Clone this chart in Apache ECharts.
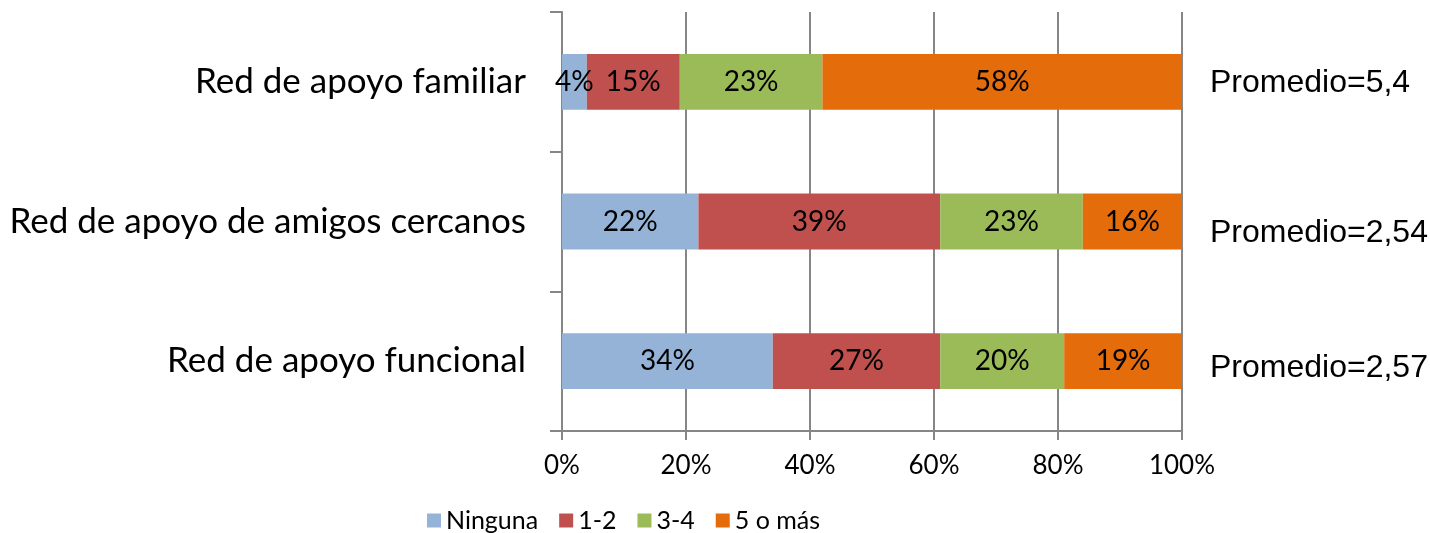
<!DOCTYPE html>
<html><head><meta charset="utf-8">
<script src="https://cdn.jsdelivr.net/npm/echarts@6/dist/echarts.min.js"></script>
<style>html,body{margin:0;padding:0;background:#fff}#c{width:1430px;height:533px}</style>
</head><body><div id="c"></div>
<script>
const categories = ['Red de apoyo funcional', 'Red de apoyo de amigos cercanos', 'Red de apoyo familiar'];
const seriesNames = ['Ninguna', '1-2', '3-4', '5 o más'];
const ninguna = [34, 22, 4];
const uno_dos = [27, 39, 15];
const tres_cuatro = [20, 23, 23];
const cinco_mas = [19, 16, 58];
const promedios = ['Promedio=2,57', 'Promedio=2,54', 'Promedio=5,4'];
const xTicks = [0, 20, 40, 60, 80, 100];
const colors = ['#95B3D7', '#C0504D', '#9BBB59', '#E46C0A'];
const values = [ninguna, uno_dos, tres_cuatro, cinco_mas];

const chart = echarts.init(document.getElementById('c'));
const font = 'Lato, "Open Sans", sans-serif';
chart.setOption({
  animation: false,
  color: colors,
  grid: { left: 562, right: 248, top: 12, bottom: 102 },
  legend: {
    top: 503, left: 422,
    itemWidth: 14, itemHeight: 14, itemGap: 21,
    icon: 'rect',
    textStyle: { fontFamily: font, fontSize: 25, color: '#000' },
    data: seriesNames
  },
  xAxis: {
    type: 'value', min: 0, max: 100, interval: 20,
    axisLine: { show: true, lineStyle: { color: '#868686', width: 2 } },
    axisTick: { show: true, length: 9, lineStyle: { color: '#868686', width: 2 } },
    splitLine: { show: true, lineStyle: { color: '#868686', width: 2 } },
    axisLabel: { formatter: v => v + '%', fontFamily: font, fontSize: 26, color: '#000', margin: 22 }
  },
  yAxis: {
    type: 'category', data: categories,
    axisLine: { show: true, lineStyle: { color: '#868686', width: 2 } },
    axisTick: { show: true, length: 12, lineStyle: { color: '#868686', width: 2 } },
    axisLabel: { fontFamily: font, fontSize: 35, color: '#000', margin: 36 }
  },
  series: values.map((d, i) => ({
    name: seriesNames[i], type: 'bar', stack: 'all', barWidth: '40%',
    data: d,
    label: { show: true, position: 'inside', formatter: p => p.value + '%',
             fontFamily: font, fontSize: 28, color: '#000' }
  }))
});

const offs = [7, 12, 1];
chart.setOption({
  graphic: promedios.map((t, i) => {
    const p = chart.convertToPixel({ gridIndex: 0 }, [100, i]);
    return { type: 'text', x: 1210, y: p[1] + offs[i],
      style: { text: t, fontFamily: '"Liberation Sans", Arial, sans-serif', fontSize: 32, fill: '#000', verticalAlign: 'middle' } };
  })
});
</script></body></html>
